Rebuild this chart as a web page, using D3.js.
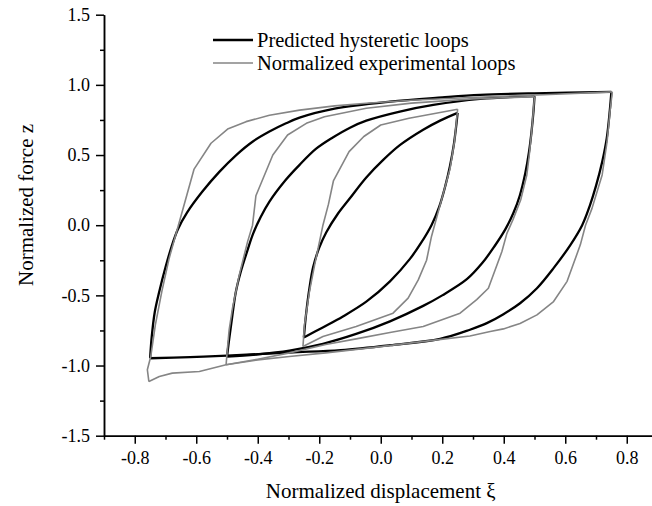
<!DOCTYPE html>
<html>
<head>
<meta charset="utf-8">
<script src="https://cdn.jsdelivr.net/npm/d3@7"></script>
<style>
  body { margin: 0; background: #fff; }
  svg text { font-family: "Liberation Serif", "Times New Roman", serif; fill: #000; }
</style>
</head>
<body>
<div id="main"></div>
<script>
// predicted loops (black), amplitude 0.75 / 0.5 / 0.25, loading + unloading branches
var bigUpX = [-0.75, -0.745, -0.735, -0.72, -0.70, -0.68, -0.66, -0.63, -0.58, -0.525, -0.47, -0.417, -0.362, -0.308, -0.264, -0.15, 0.03, 0.2, 0.323, 0.5, 0.75];
var bigUpZ = [-0.948, -0.8, -0.62, -0.47, -0.30, -0.15, -0.03, 0.09, 0.24, 0.38, 0.50, 0.595, 0.667, 0.726, 0.766, 0.83, 0.88, 0.91, 0.928, 0.94, 0.95];
var bigDnX = [0.75, 0.745, 0.735, 0.72, 0.70, 0.68, 0.655, 0.617, 0.562, 0.508, 0.453, 0.399, 0.345, 0.29, 0.193, 0.03, -0.13, -0.297, -0.5, -0.62, -0.75];
var bigDnZ = [0.95, 0.82, 0.62, 0.45, 0.28, 0.14, 0.0, -0.14, -0.306, -0.449, -0.556, -0.634, -0.698, -0.745, -0.81, -0.855, -0.89, -0.907, -0.93, -0.94, -0.948];

var midUpX = [-0.5, -0.494, -0.486, -0.471, -0.455, -0.435, -0.415, -0.39, -0.362, -0.31, -0.264, -0.21, -0.156, -0.1, -0.047, 0.062, 0.171, 0.323, 0.5];
var midUpZ = [-0.936, -0.83, -0.7, -0.473, -0.33, -0.19, -0.06, 0.06, 0.168, 0.32, 0.43, 0.545, 0.625, 0.695, 0.745, 0.81, 0.857, 0.9, 0.92];
var midDnX = [0.5, 0.497, 0.49, 0.482, 0.47, 0.452, 0.432, 0.405, 0.37, 0.33, 0.28, 0.2, 0.138, 0.03, -0.08, -0.188, -0.297, -0.4, -0.5];
var midDnZ = [0.92, 0.82, 0.66, 0.52, 0.37, 0.21, 0.09, -0.03, -0.15, -0.27, -0.385, -0.5, -0.575, -0.685, -0.775, -0.845, -0.893, -0.92, -0.936];

var smUpX = [-0.25, -0.246, -0.24, -0.232, -0.22, -0.2, -0.177, -0.14, -0.101, -0.047, 0.008, 0.062, 0.138, 0.193, 0.25];
var smUpZ = [-0.8, -0.7, -0.58, -0.45, -0.3, -0.16, -0.05, 0.08, 0.19, 0.34, 0.465, 0.57, 0.68, 0.745, 0.8];
var smDnX = [0.25, 0.245, 0.238, 0.225, 0.21, 0.19, 0.165, 0.13, 0.095, 0.03, -0.047, -0.123, -0.19, -0.25];
var smDnZ = [0.8, 0.7, 0.58, 0.42, 0.28, 0.13, 0.0, -0.13, -0.24, -0.4, -0.545, -0.65, -0.73, -0.8];

// normalized experimental loops (gray)
var eBigUpX = [-0.754, -0.759, -0.748, -0.733, -0.712, -0.688, -0.658, -0.607, -0.552, -0.498, -0.438, -0.362, -0.264, -0.15, -0.047, 0.1, 0.29, 0.508, 0.753];
var eBigUpZ = [-1.114, -1.03, -0.936, -0.71, -0.473, -0.235, 0.0, 0.40, 0.584, 0.685, 0.738, 0.783, 0.82, 0.85, 0.869, 0.89, 0.91, 0.928, 0.95];
var eBigDnX = [0.753, 0.745, 0.736, 0.72, 0.687, 0.666, 0.649, 0.606, 0.562, 0.508, 0.453, 0.399, 0.356, 0.29, 0.182, 0.0, -0.179, -0.297, -0.4, -0.503, -0.59, -0.678, -0.72, -0.754];
var eBigDnZ = [0.95, 0.8, 0.595, 0.358, 0.12, 0.0, -0.14, -0.40, -0.544, -0.639, -0.7, -0.739, -0.758, -0.79, -0.817, -0.865, -0.91, -0.936, -0.96, -0.995, -1.043, -1.054, -1.078, -1.114];

var eMidUpX = [-0.503, -0.498, -0.493, -0.482, -0.46, -0.433, -0.417, -0.406, -0.351, -0.303, -0.242, -0.183, -0.047, 0.1, 0.3, 0.5];
var eMidUpZ = [-0.995, -0.865, -0.746, -0.59, -0.354, -0.117, 0.0, 0.21, 0.5, 0.643, 0.726, 0.773, 0.833, 0.87, 0.9, 0.916];
var eMidDnX = [0.5, 0.492, 0.483, 0.475, 0.455, 0.43, 0.41, 0.394, 0.35, 0.312, 0.258, 0.138, 0.03, -0.08, -0.179, -0.297, -0.4, -0.503];
var eMidDnZ = [0.916, 0.7, 0.5, 0.358, 0.18, 0.04, -0.06, -0.188, -0.449, -0.53, -0.627, -0.722, -0.765, -0.81, -0.85, -0.91, -0.955, -0.995];

var eSmUpX = [-0.253, -0.248, -0.232, -0.215, -0.188, -0.17, -0.154, -0.103, -0.055, 0.0, 0.092, 0.25];
var eSmUpZ = [-0.865, -0.71, -0.473, -0.283, 0.0, 0.15, 0.315, 0.524, 0.632, 0.714, 0.762, 0.826];
var eSmDnX = [0.25, 0.24, 0.225, 0.2, 0.175, 0.165, 0.149, 0.122, 0.089, 0.04, -0.08, -0.188, -0.253];
var eSmDnZ = [0.826, 0.6, 0.4, 0.2, 0.0, -0.08, -0.25, -0.39, -0.52, -0.627, -0.722, -0.793, -0.865];

var xTicks = [-0.8, -0.6, -0.4, -0.2, 0.0, 0.2, 0.4, 0.6, 0.8];
var xMinor = [-0.9, -0.7, -0.5, -0.3, -0.1, 0.1, 0.3, 0.5, 0.7, 0.9];
var yTicks = [-1.5, -1.0, -0.5, 0.0, 0.5, 1.0, 1.5];
var yMinor = [-1.25, -0.75, -0.25, 0.25, 0.75, 1.25];
var legendNames = ["Predicted hysteretic loops", "Normalized experimental loops"];

var width = 652, height = 506;

var svg = d3.select("#main").append("svg")
  .attr("width", width)
  .attr("height", height);

var x = d3.scaleLinear().domain([-0.9, 0.9]).range([104, 657.5]);
var y = d3.scaleLinear().domain([-1.5, 1.5]).range([435.7, 14.7]);

// plain hyphen for negatives, like the original
var fmt = function (d) { return d3.format(".1f")(d).replace("\u2212", "-"); };

function pts(xs, zs) {
  return xs.map(function (d, i) { return [d, zs[i]]; });
}

var smooth = d3.line()
  .x(function (d) { return x(d[0]); })
  .y(function (d) { return y(d[1]); })
  .curve(d3.curveCatmullRom.alpha(0.5));

var poly = d3.line()
  .x(function (d) { return x(d[0]); })
  .y(function (d) { return y(d[1]); });

var predicted = [pts(bigUpX, bigUpZ), pts(bigDnX, bigDnZ), pts(midUpX, midUpZ), pts(midDnX, midDnZ), pts(smUpX, smUpZ), pts(smDnX, smDnZ)];
var measured = [pts(eBigUpX, eBigUpZ), pts(eBigDnX, eBigDnZ), pts(eMidUpX, eMidUpZ), pts(eMidDnX, eMidDnZ), pts(eSmUpX, eSmUpZ), pts(eSmDnX, eSmDnZ)];

svg.append("g").selectAll("path")
  .data(predicted)
  .enter().append("path")
  .attr("d", smooth)
  .attr("fill", "none")
  .attr("stroke", "#000")
  .attr("stroke-width", 2.3)
  .attr("stroke-linejoin", "round");

svg.append("g").selectAll("path")
  .data(measured)
  .enter().append("path")
  .attr("d", poly)
  .attr("fill", "none")
  .attr("stroke", "#858585")
  .attr("stroke-width", 1.6)
  .attr("stroke-linejoin", "round");

// axes
svg.append("g")
  .attr("transform", "translate(0," + y(-1.5) + ")")
  .call(d3.axisBottom(x).tickValues(xTicks).tickSize(8).tickSizeOuter(0).tickPadding(8)
    .tickFormat(fmt));
svg.append("g")
  .attr("transform", "translate(0," + y(-1.5) + ")")
  .call(d3.axisBottom(x).tickValues(xMinor).tickSize(4).tickSizeOuter(0).tickFormat(""));

svg.append("g")
  .attr("transform", "translate(" + x(-0.9) + ",0)")
  .call(d3.axisLeft(y).tickValues(yTicks).tickSize(8).tickSizeOuter(0).tickPadding(6)
    .tickFormat(fmt));
svg.append("g")
  .attr("transform", "translate(" + x(-0.9) + ",0)")
  .call(d3.axisLeft(y).tickValues(yMinor).tickSize(4).tickSizeOuter(0).tickFormat(""));

svg.selectAll(".domain, .tick line")
  .attr("stroke", "#000")
  .attr("stroke-width", 1.5);
svg.selectAll(".tick text")
  .style("font-size", "18px")
  .style("font-family", "'Liberation Serif', serif");

svg.append("text")
  .attr("x", x(0))
  .attr("y", 498)
  .attr("text-anchor", "middle")
  .style("font-size", "21px")
  .text("Normalized displacement \u03BE");

svg.append("text")
  .attr("transform", "translate(33," + 205 + ") rotate(-90)")
  .attr("text-anchor", "middle")
  .style("font-size", "21px")
  .text("Normalized force z");

// legend
var legend = svg.append("g").selectAll("g")
  .data(legendNames)
  .enter().append("g")
  .attr("transform", function (d, i) { return "translate(213," + (40 + i * 23) + ")"; });

legend.append("line")
  .attr("x1", 0).attr("x2", 40)
  .attr("stroke", function (d, i) { return i == 0 ? "#000" : "#858585"; })
  .attr("stroke-width", function (d, i) { return i == 0 ? 2.3 : 1.6; });

legend.append("text")
  .attr("x", 44)
  .attr("y", 7)
  .style("font-size", "20.5px")
  .text(function (d) { return d; });
</script>
</body>
</html>
